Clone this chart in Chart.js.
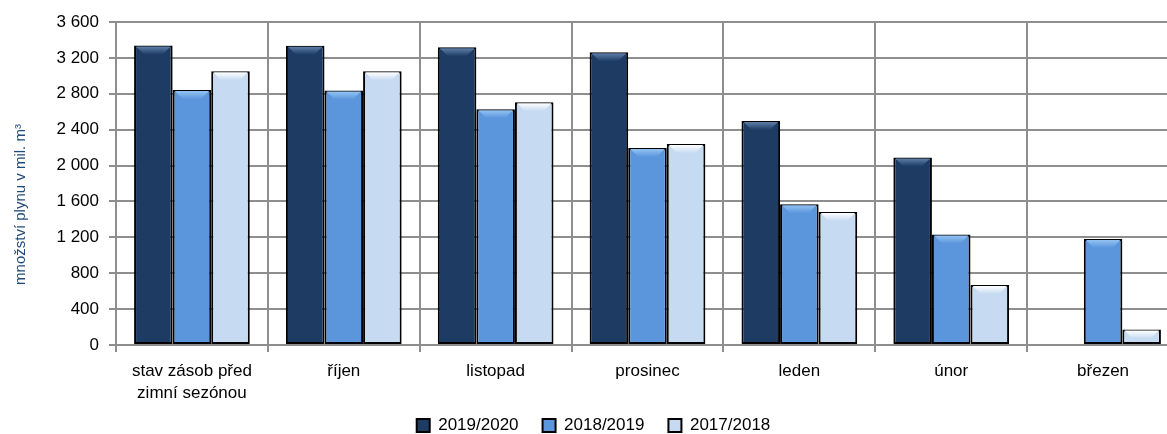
<!DOCTYPE html>
<html>
<head>
<meta charset="utf-8">
<script src="https://cdn.jsdelivr.net/npm/chart.js@4.4.1/dist/chart.umd.min.js"></script>
<style>
  html, body { margin: 0; padding: 0; background: #fff; }
  #wrap { width: 1167px; height: 434px; }
</style>
</head>
<body>
<div id="wrap"><canvas id="myChart"></canvas></div>
<script>
const ctx = document.getElementById('myChart');

var categories = [["stav zásob před", "zimní sezónou"], "říjen", "listopad", "prosinec", "leden", "únor", "březen"];
var seriesNames = ["2019/2020", "2018/2019", "2017/2018"];
var values2019 = [3338, 3336, 3318, 3262, 2497, 2090, null];
var values2018 = [2841, 2836, 2628, 2196, 1570, 1232, 1182];
var values2017 = [3052, 3050, 2706, 2240, 1483, 669, 172];
var barColors = ["#1d3b63", "#5b96dc", "#c6daf1"];
var topColors = ["#5e7fa8", "#93c3f3", "#ffffff"];
var yTitle = "množství plynu v mil. m³";
var FONT = "'Liberation Sans', Arial, sans-serif";

function fmt(v) {
    return String(v).replace(/\B(?=(\d{3})+(?!\d))/g, ' ');
}

// bevel highlight on top of every bar
const bevel = {
    id: 'bevel',
    afterDatasetsDraw(chart) {
        const c = chart.ctx;
        chart.data.datasets.forEach(function (ds, i) {
            chart.getDatasetMeta(i).data.forEach(function (bar, j) {
                if (ds.data[j] == null) return;
                var p = bar.getProps(['x', 'y', 'width', 'base'], true);
                var l = p.x - p.width / 2 + 2, r = p.x + p.width / 2 - 2, t = p.y + 1;
                var h = Math.min(8, p.base - t - 1);
                if (h <= 0) return;
                var g = c.createLinearGradient(0, t, 0, t + h);
                g.addColorStop(0, topColors[i]);
                g.addColorStop(1, barColors[i]);
                c.save();
                c.fillStyle = g;
                c.beginPath();
                c.moveTo(l, t);
                c.lineTo(r, t);
                c.lineTo(r - h, t + h);
                c.lineTo(l + h, t + h);
                c.closePath();
                c.fill();
                c.restore();
            });
        });
    }
};

// rotated y axis title, sitting a bit below the middle as in the original
const sideTitle = {
    id: 'sideTitle',
    afterDraw(chart) {
        const c = chart.ctx, a = chart.chartArea;
        c.save();
        c.translate(21, (a.top + a.bottom) / 2 + 21);
        c.rotate(-Math.PI / 2);
        c.font = "15px " + FONT;
        c.fillStyle = '#1f4b7a';
        c.textAlign = 'center';
        c.textBaseline = 'middle';
        c.fillText(yTitle, 0, 0);
        c.restore();
    }
};

// the original plot runs past the right edge of the picture (last column is cut),
// and the legend sits a little right of centre and overlaps the label band
const layoutTweak = {
    id: 'layoutTweak',
    afterLayout(chart) {
        const x = chart.scales.x;
        x.right += 12;
        x.width += 12;
        x.configure();
        chart.chartArea.right += 12;
        chart.chartArea.width += 12;
        chart.legend.left += 10;
        chart.legend.right += 10;
        chart.legend.top -= 12;
        chart.legend.height += 12;
    }
};

const chart = new Chart(ctx, {
    type: 'bar',
    data: {
        labels: categories,
        datasets: seriesNames.map(function (name, i) {
            return {
                label: name,
                data: [values2019, values2018, values2017][i],
                backgroundColor: barColors[i],
                borderColor: '#000',
                borderWidth: 2,
                borderSkipped: false,
                categoryPercentage: 0.762,
                barPercentage: 1.0
            };
        })
    },
    options: {
        responsive: true,
        maintainAspectRatio: false,
        animation: false,
        layout: { padding: { left: 0, right: 0, top: 22, bottom: 0 } },
        scales: {
            x: {
                grid: { color: '#8e8e8e', lineWidth: 2, offset: true, tickLength: 7 },
                border: { color: '#8e8e8e', width: 2 },
                ticks: { color: '#000', font: { family: FONT, size: 17, lineHeight: 1.27 }, maxRotation: 0, padding: 9 },
                afterFit: function (scale) { scale.height = 60; }
            },
            y: {
                min: 0,
                max: 3600,
                grid: { color: '#8e8e8e', lineWidth: 2, tickLength: 7 },
                border: { color: '#8e8e8e', width: 2 },
                ticks: {
                    stepSize: 400,
                    color: '#000',
                    font: { family: FONT, size: 17 },
                    padding: 10,
                    callback: function (v) { return fmt(v); }
                },
                afterFit: function (scale) { scale.width = 116; }
            }
        },
        plugins: {
            legend: {
                position: 'bottom',
                labels: {
                    color: '#000',
                    font: { family: FONT, size: 17 },
                    boxWidth: 13,
                    boxHeight: 13,
                    padding: 24,
                    generateLabels: function (chart) {
                        return chart.data.datasets.map(function (ds, i) {
                            return {
                                text: ds.label,
                                fillStyle: barColors[i],
                                strokeStyle: '#000',
                                lineWidth: 2,
                                datasetIndex: i
                            };
                        });
                    }
                }
            },
            tooltip: { enabled: false }
        }
    },
    plugins: [bevel, sideTitle, layoutTweak]
});

// keep the legend band thin even with wide item spacing
const baseFit = chart.legend.fit.bind(chart.legend);
chart.legend.fit = function () {
    baseFit();
    this.height = 29;
};
chart.update();
</script>
</body>
</html>
